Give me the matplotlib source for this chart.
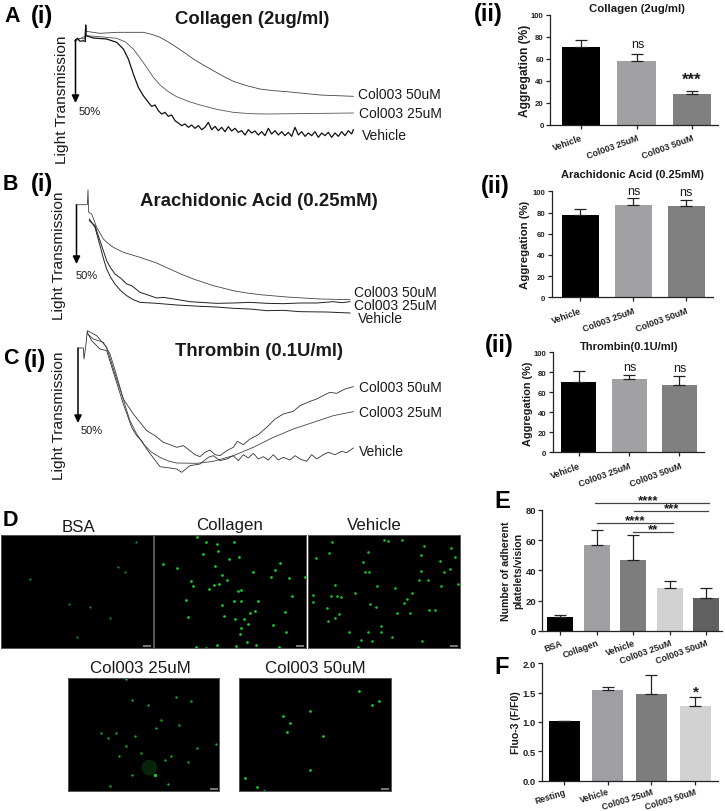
import matplotlib
matplotlib.use("Agg")
import matplotlib.pyplot as plt
from matplotlib.patches import Rectangle

plt.rcParams['font.family'] = ['Liberation Sans', 'DejaVu Sans']

W, H = 725, 812

# ---------- aggregation traces (crop units) ----------
a50_x = [228,240,254,257,259,300,350,430,455,480,505,530,555,580,610,640,670,700,740,780,820,860,910,960,1010,1060]
a50_y = [122,118,120,78,97,103,100,100,106,115,129,145,162,180,198,215,232,247,260,270,275,278,283,288,290,292]
a25_x = [228,258,300,350,375,400,420,440,460,480,505,530,565,600,650,700,750,800,1060]
a25_y = [125,110,113,118,128,150,177,205,235,258,278,293,307,318,331,340,344,345,342]
av_x = [225,232,240,250,256,257,258,280,320,350,370,385,400,415,430,445,455,465,475,485,495,505,515,525,535,545,555,565,575,585,595,605,615,625,635,645,655,665,675,685,695,705,715,725,735,745,755,765,775,785,795,805,815,825,835,845,855,865,875,885,895,905,915,925,935,945,955,965,975,985,995,1005,1015,1025,1035,1045,1055,1060]
av_y = [125,118,127,125,128,78,110,117,120,130,150,180,225,265,290,310,322,318,335,345,340,352,348,365,372,380,375,385,378,388,380,392,385,370,392,382,395,385,398,383,396,388,400,395,408,392,402,396,408,398,410,388,405,395,408,398,410,400,412,385,408,398,412,402,410,398,415,402,410,400,415,402,412,398,410,395,405,392]

b50_x = [228,262,264,266,275,290,310,325,340,370,420,470,520,550,580,640,700,740,780,860,960,1050]
b50_y = [107,107,62,130,135,175,210,224,235,250,265,282,305,318,330,350,365,372,377,384,390,392]
b25_x = [268,285,300,310,320,332,345,365,380,395,420,435,470,490,540,570,600,650,700,750,800,850,900,950,1000,1025,1050]
b25_y = [155,170,215,245,275,297,315,330,345,350,370,375,387,385,393,398,400,403,402,400,403,404,402,402,398,401,398]
bv_x = [268,285,300,310,320,332,345,362,380,400,420,470,530,600,650,700,750,800,850,900,980,1050]
bv_y = [150,175,230,268,300,325,345,365,380,392,400,403,408,412,414,418,420,425,424,428,429,432]

c50_x = [235,250,252,258,262,290,320,345,370,400,420,440,465,490,510,530,550,570,585,600,615,630,645,660,680,700,712,730,750,775,800,825,850,880,900,930,950,975,990,1010,1035,1060]
c50_y = [72,72,105,60,20,35,70,150,225,270,295,320,335,355,362,370,365,380,392,398,385,378,392,395,380,370,352,362,345,332,310,285,270,262,245,232,225,212,205,208,195,188]
c25_x = [262,280,310,330,345,360,375,390,410,430,455,480,505,530,590,640,700,760,820,880,940,1000,1060]
c25_y = [30,45,55,90,138,190,243,290,330,360,385,400,411,417,418,412,395,370,340,315,295,275,263]
cv_x = [262,275,300,320,345,370,395,410,425,440,455,480,495,510,530,545,570,600,625,640,660,680,700,715,730,745,760,775,790,805,820,835,850,870,885,900,920,935,950,970,985,1005,1025,1040,1060]
cv_y = [25,50,75,80,160,240,310,335,350,375,395,428,430,432,435,445,425,420,400,395,410,405,395,410,392,402,388,405,398,408,392,408,400,408,395,405,412,392,405,392,385,392,382,386,372]

# ---------- bar data ----------
abc_labels = ['Vehicle', 'Col003 25uM', 'Col003 50uM']
a_vals, a_err = [71, 57.5, 28], [6, 7, 2.5]
b_vals, b_err = [78, 87.5, 86], [5, 6, 6]
c_vals, c_err = [70, 73.5, 67], [11.5, 3.5, 9]
e_labels = ['BSA', 'Collagen', 'Vehicle', 'Col003 25uM', 'Col003 50uM']
e_vals, e_err = [9, 57, 47, 28, 22], [1.3, 10, 16.5, 5, 6.5]
f_labels = ['Resting', 'Vehicle', 'Col003 25uM', 'Col003 50uM']
f_vals, f_err = [1.01, 1.54, 1.47, 1.27], [0, 0.06, 0.33, 0.15]
gray3 = ['#000000', '#a1a1a4', '#808080']
gray5 = ['#000000', '#9f9fa3', '#7d7d7d', '#d2d2d2', '#606060']

# ---------- micrograph dots (crop units) ----------
bsa_x = [409,353,375,91,207,269,330,231]
bsa_y = [98,175,190,209,286,294,326,385]
col_x = [590,618,652,703,653,610,687,718,488,531,646,665,680,573,578,626,642,657,715,723,759,813,839,826,867,915,875,775,702,722,558,665,565,672,705,732,750,764,745,855,819,722,721,857,741,650,708,768,838,588,618]
col_y = [85,100,105,100,125,135,150,143,165,176,170,197,213,215,230,240,228,226,245,243,188,203,162,184,206,205,260,275,276,275,272,287,324,320,331,330,312,307,344,310,349,358,375,369,400,407,411,408,414,414,416]
veh_x = [995,1151,1165,1206,1272,1353,1105,1262,1364,948,986,1088,1095,1107,1263,1319,1350,1333,1285,1256,1324,1375,1004,1131,1184,938,992,1012,1022,1065,1236,1222,1213,938,1111,1128,982,1190,1230,1286,1305,1016,1005,983,1142,1143,1105,1048,1177,1082,1116,1267,1074]
veh_y = [99,94,96,93,110,117,130,137,143,148,132,160,188,188,185,156,181,190,213,214,230,225,228,232,236,258,260,262,265,253,252,269,283,279,284,295,296,313,313,302,302,316,328,336,350,369,370,368,384,393,397,396,413]
c25_dx = [378,529,396,574,445,483,537,469,304,349,325,406,378,590,648,422,357,495,512,565,465,395,504,331]
c25_dy = [510,565,572,575,587,634,648,656,673,673,687,681,711,716,704,732,741,752,741,759,797,799,826,832]
c50_dx = [1076,1136,1117,930,850,870,860,970,930,735,771,792]
c50_dy = [545,575,587,606,622,643,669,680,783,807,833,845]

fig = plt.figure(figsize=(W/100, H/100), dpi=100)


def axes_px(x0, y0, x1, y1, **kw):
    return fig.add_axes([x0/W, 1-y1/H, (x1-x0)/W, (y1-y0)/H], **kw)


def trace_panel(top, height, curves):
    ax = axes_px(0, top, 460, top+height)
    ax.set_xlim(0, 1380)
    ax.set_ylim(height*3, 0)
    ax.axis('off')
    for x, y, lw, col in curves:
        ax.plot(x, y, color=col, lw=lw, solid_joinstyle='round')
    return ax


trace_panel(0, 170, [(a50_x, a50_y, 0.6, '#444444'), (a25_x, a25_y, 0.6, '#555555'), (av_x, av_y, 0.9, '#111111')])
trace_panel(170, 160, [(b50_x, b50_y, 0.6, '#444444'), (b25_x, b25_y, 0.7, '#222222'), (bv_x, bv_y, 0.7, '#222222')])
trace_panel(325, 160, [(c50_x, c50_y, 0.6, '#333333'), (c25_x, c25_y, 0.6, '#444444'), (cv_x, cv_y, 0.6, '#333333')])


def bar_panel(box, centers, bw, vals, err, labels, colors, yticks, ymax, x_fs, y_fs, rot=20, xpad=3, ecol='#222222'):
    l, t, r, b = box
    ax = axes_px(l, t, r, b)
    ax.patch.set_visible(False)
    step = centers[1]-centers[0]
    ax.set_xlim((l-centers[0])/step, (r-centers[0])/step)
    ax.set_ylim(0, ymax)
    xs = list(range(len(vals)))
    ax.bar(xs, vals, width=bw/step, color=colors)
    ax.errorbar(xs, vals, yerr=[[0]*len(err), err], fmt='none', ecolor=ecol, elinewidth=0.9, capsize=4.2, capthick=0.9)
    ax.set_xticks(xs, labels, rotation=rot, ha='right', rotation_mode='anchor', fontweight='bold', fontsize=x_fs)
    ax.set_yticks(yticks, [str(v) for v in yticks], fontweight='bold', fontsize=y_fs)
    ax.tick_params(length=3, width=0.9, pad=1.5, color='#222222', labelcolor='#222222')
    ax.tick_params(axis='x', pad=xpad)
    for s in ['top', 'right']:
        ax.spines[s].set_visible(False)
    for s in ['left', 'bottom']:
        ax.spines[s].set_linewidth(0.9)
        ax.spines[s].set_color('#222222')
    return ax


y100 = [0, 20, 40, 60, 80, 100]
bar_panel((550, 15.7, 718, 125.7), [581, 636.5, 692], 38.5, a_vals, a_err, abc_labels, gray3, y100, 100, 6.4, 5.6)
bar_panel((551.7, 192.3, 713, 298.3), [580, 633, 686.5], 37, b_vals, b_err, abc_labels, gray3, y100, 100, 6.4, 5.6)
bar_panel((552.7, 353.3, 704, 453.3), [578.5, 629, 679.5], 35, c_vals, c_err, abc_labels, gray3, y100, 100, 6.4, 5.6)
bar_panel((542.3, 511, 721.7, 631.7), [560.3, 596.7, 632.7, 669, 705], 26, e_vals, e_err, e_labels, gray5, [0, 20, 40, 60, 80], 80, 6.4, 6.8, xpad=2)
bar_panel((542.3, 664.3, 717.7, 781.7), [564, 607.7, 651.5, 695.5], 31, f_vals, f_err, f_labels, gray5[:4], [0.0, 0.5, 1.0, 1.5, 2.0], 2.0, 6.2, 6.8, rot=17, xpad=1.5)


def micro(x0, y0, x1, y1, xs, ys, col='#10e030', size=3.6):
    ax = axes_px(x0/3, 510+y0/3, x1/3, 510+y1/3)
    ax.set_xlim(x0, x1)
    ax.set_ylim(y1, y0)
    ax.set_facecolor('black')
    ax.set_xticks([])
    ax.set_yticks([])
    for s in ax.spines.values():
        s.set_color('#555555')
        s.set_linewidth(0.7)
    ax.scatter(xs, ys, s=size, color=col, linewidths=0)
    ax.add_patch(Rectangle((x1-28, y1-10), 24, 7, color='#777777', lw=0))
    return ax


micro(3, 77, 458, 418, bsa_x, bsa_y, '#0c9a22', 2.4)
micro(463, 77, 917, 418, col_x, col_y)
micro(924, 77, 1379, 418, veh_x, veh_y, '#10d02c', 3.4)
ax25 = micro(203, 506, 657, 847, c25_dx, c25_dy, '#0cb828', 2.8)
ax25.scatter([447], [775], s=130, color='#06240a', linewidths=0, zorder=1)
ax25.scatter([465], [798], s=6, color='#10d030', linewidths=0, zorder=3)
micro(718, 506, 1172, 847, c50_dx, c50_dy)

# ---------- text and annotations, placed on a pixel canvas ----------
cv = fig.add_axes([0, 0, 1, 1], facecolor='none')
cv.set_xlim(0, W)
cv.set_ylim(H, 0)
cv.axis('off')


def T(x, y, s, fs, bold=False, rot=0, ha='left', col='#1a1a1a'):
    cv.text(x, y, s, fontsize=fs, fontweight='bold' if bold else 'normal', rotation=rot,
            ha=ha, va='center', color=col)


for x, y, s in [(4, 16, 'A'), (3, 184, 'B'), (3, 359, 'C'), (3, 521, 'D'), (494, 502, 'E'), (494, 668, 'F')]:
    T(x, y, s, 17 if s in 'EF' else 15.5, True, col='black')
for x, y, s in [(31, 16, '(i)'), (31, 184, '(i)'), (24, 361, '(i)')]:
    T(x, y, s, 17, True, col='black')
for x, y, s in [(474, 15, '(ii)'), (481, 186, '(ii)'), (485, 346, '(ii)')]:
    T(x, y, s, 17, True, col='black')

T(252, 20, 'Collagen (2ug/ml)', 13.3, True, ha='center')
T(259, 202, 'Arachidonic Acid (0.25mM)', 13.4, True, ha='center')
T(259, 352, 'Thrombin (0.1U/ml)', 13.3, True, ha='center')
T(637, 9, 'Collagen (2ug/ml)', 8.2, True, ha='center')
T(632, 175, 'Arachidonic Acid (0.25mM)', 8, True, ha='center')
T(629, 347, 'Thrombin(0.1U/ml)', 8, True, ha='center')

for x, y0, y1, s in [(62, 35, 164, 'Light Transmission'), (59, 191, 320, 'Light Transmission'), (59, 351, 480, 'Light Transmission')]:
    T(x, (y0+y1)/2, s, 11.1, rot=90, ha='center')

for x, y0, y1, lx, ly in [(75.5, 41, 104, 79, 112), (76.5, 206, 265, 76, 276), (78, 349, 424, 81, 431)]:
    cv.annotate('', xy=(x, y1), xytext=(x, y0),
                arrowprops=dict(arrowstyle='-|>,head_width=0.22,head_length=0.45', color='black', lw=1.1, shrinkA=0, shrinkB=0))
    T(lx, ly, '50%', 8)

for x, y, s in [(358, 95, 'Col003 50uM'), (359, 114, 'Col003 25uM'), (362, 136, 'Vehicle'),
                (354, 293, 'Col003 50uM'), (354, 306, 'Col003 25uM'), (358, 319, 'Vehicle'),
                (359, 388, 'Col003 50uM'), (359, 413, 'Col003 25uM'), (359, 452, 'Vehicle')]:
    T(x, y, s, 10)

for x, y, s in [(638, 45, 'ns'), (634, 192, 'ns'), (686, 193, 'ns'), (630, 368, 'ns'), (680, 369, 'ns')]:
    T(x, y, s, 9, ha='center')
T(692, 80, '***', 12, True, ha='center')

T(525, 71, 'Aggregation (%)', 8.6, True, rot=90, ha='center')
T(525, 245, 'Aggregation (%)', 8.2, True, rot=90, ha='center')
T(528, 404, 'Aggregation (%)', 7.8, True, rot=90, ha='center')
T(512, 571, 'Number of adherent\nplatelets/vision', 7.6, True, rot=90, ha='center')
T(516, 723, 'Fluo-3 (F/F0)', 7.6, True, rot=90, ha='center')

for x0, x1, y, s, tx in [(595, 709, 503.5, '****', 648), (634, 708, 512, '***', 672),
                         (597, 673, 524, '****', 635), (633, 673, 532.5, '**', 653)]:
    cv.plot([x0, x1], [y, y], color='#444444', lw=0.9)
    T(tx, y-2.5, s, 9.5, True, ha='center')
T(696, 692, '*', 11, True, ha='center')

for x, y, s in [(79, 528, 'BSA'), (230, 526, 'Collagen'), (374, 526, 'Vehicle'), (140, 669, 'Col003 25uM'), (315, 669, 'Col003 50uM')]:
    T(x, y, s, 12.2, ha='center')

fig.savefig('out.png', dpi=100, facecolor='white')
